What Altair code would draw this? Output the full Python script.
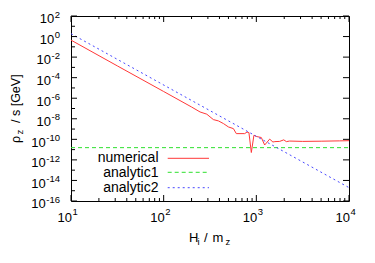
import altair as alt
import pandas as pd

# ---------------- data ----------------
num_x = [10, 31.6, 100, 200, 247, 292, 344, 390, 442, 500, 566, 608, 748, 793, 832,
         883, 942, 1000, 1132, 1230, 1393, 1510, 1585, 1786, 1977, 2109, 2286,
         3162, 5012, 7943, 10000]
num_y = [4.5e-1, 1.4e-3, 4.5e-6, 1.4e-7, 4.6e-8, 2.8e-8, 8.3e-9, 6.2e-9, 3.4e-9,
         1.6e-9, 1.1e-9, 3.6e-10, 3.6e-10, 5.1e-10, 4.5e-10, 5.2e-12, 2.5e-10,
         1.9e-10, 1.5e-10, 2.8e-11, 1.05e-10, 5.5e-11, 6.0e-11, 6.3e-11, 8.9e-11,
         6.0e-11, 6.8e-11, 6.3e-11, 6.6e-11, 7.1e-11, 7.4e-11]
a1_x = [10, 10000]
a1_y = [1.55e-11, 1.55e-11]
a2_x = [10, 10000]
a2_y = [1.9, 2.0e-15]

series_names = ["numerical", "analytic1", "analytic2"]

x_major = [10, 100, 1000, 10000]
x_major_exp = ["1", "2", "3", "4"]
x_minor = [20, 30, 40, 50, 60, 70, 80, 90, 200, 300, 400, 500, 600, 700, 800, 900,
           2000, 3000, 4000, 5000, 6000, 7000, 8000, 9000]
y_major = [1e2, 1e0, 1e-2, 1e-4, 1e-6, 1e-8, 1e-10, 1e-12, 1e-14, 1e-16]
y_major_exp = ["2", "0", "-2", "-4", "-6", "-8", "-10", "-12", "-14", "-16"]
y_odd = [1e1, 1e-1, 1e-3, 1e-5, 1e-7, 1e-9, 1e-11, 1e-13, 1e-15]

# ---------------- styling ----------------
W, H = 278, 185
FONT = "Liberation Sans"
RED, GREEN, BLUE = "#ff3838", "#2ee02e", "#4848ff"

xscale = alt.Scale(type="log", domain=[10, 10000])
yscale = alt.Scale(type="log", domain=[1e-16, 1e2])


def X(f="x"):
    return alt.X(f"{f}:Q", scale=xscale, axis=None)


def Y(f="y"):
    return alt.Y(f"{f}:Q", scale=yscale, axis=None)


def line(xs, ys, color, dash=None):
    kw = dict(color=color, strokeWidth=1, clip=True)
    if dash:
        kw["strokeDash"] = dash
    return alt.Chart(pd.DataFrame({"x": xs, "y": ys})).mark_line(**kw).encode(x=X(), y=Y())


layers = [
    line(num_x, num_y, RED),
    line(a1_x, a1_y, GREEN, [4, 3]),
    line(a2_x, a2_y, BLUE, [2, 3]),
]

# ticks (inward, gnuplot style)
dfxM = pd.DataFrame({"x": x_major, "e": x_major_exp})
dfxm = pd.DataFrame({"x": x_minor})
dfyM = pd.DataFrame({"y": y_major, "e": y_major_exp})
dfym = pd.DataFrame({"y": y_odd})
rule = dict(color="black", strokeWidth=1)
layers += [
    alt.Chart(dfxM).mark_rule(**rule).encode(x=X(), y=alt.value(H), y2=alt.value(H - 6)),
    alt.Chart(dfxM).mark_rule(**rule).encode(x=X(), y=alt.value(0), y2=alt.value(6)),
    alt.Chart(dfxm).mark_rule(**rule).encode(x=X(), y=alt.value(H), y2=alt.value(H - 3)),
    alt.Chart(dfxm).mark_rule(**rule).encode(x=X(), y=alt.value(0), y2=alt.value(3)),
    alt.Chart(dfyM).mark_rule(**rule).encode(y=Y(), x=alt.value(0), x2=alt.value(6)),
    alt.Chart(dfym).mark_rule(**rule).encode(y=Y(), x=alt.value(0), x2=alt.value(4)),
    alt.Chart(dfyM).mark_rule(**rule).encode(y=Y(), x=alt.value(W), x2=alt.value(W - 6)),
]

# tick labels: "10" plus superscript exponent
layers += [
    alt.Chart(dfxM).mark_text(align="right", baseline="alphabetic", font=FONT, fontSize=13, dx=1)
    .encode(x=X(), y=alt.value(H + 20.7), text=alt.value("10")),
    alt.Chart(dfxM).mark_text(align="left", baseline="alphabetic", font=FONT, fontSize=9.5, dx=1.5)
    .encode(x=X(), y=alt.value(H + 14), text="e:N"),
    alt.Chart(dfyM).mark_text(align="right", baseline="alphabetic", font=FONT, fontSize=9.5, dy=1.7)
    .encode(y=Y(), x=alt.value(-11), text="e:N"),
]
for cond, xr in [("length(datum.e) == 1", -16.8), ("length(datum.e) == 2", -20.0),
                 ("length(datum.e) == 3", -25.3)]:
    layers.append(
        alt.Chart(dfyM).transform_filter(cond)
        .mark_text(align="right", baseline="alphabetic", font=FONT, fontSize=13, dy=7.3)
        .encode(y=Y(), x=alt.value(xr), text=alt.value("10"))
    )


def txt(t, x, y, size=13, angle=None, align="left"):
    kw = dict(align=align, baseline="alphabetic", font=FONT, fontSize=size, color="black")
    if angle is not None:
        kw["angle"] = angle
    return alt.Chart(pd.DataFrame({"t": [t]})).mark_text(**kw).encode(
        x=alt.value(x), y=alt.value(y), text="t:N")


# axis titles with subscripts
layers += [
    txt("H", 118, 225.7),
    txt("i", 126.5, 228.7, 9.5),
    txt("/", 133, 225.7),
    txt("m", 141.5, 225.7),
    txt("z", 154.5, 228.7, 9.5),
    txt("ρ", -51.5, 127, 12.5, 270),
    txt("z", -48.5, 118.5, 9.5, 270),
    txt("/ s [GeV]", -51.5, 107, 12.5, 270),
]

# legend (label then sample, as in gnuplot)
leg_text_y = [146.3, 160.7, 175.7]
leg_line_y = [142.3, 156.3, 171.7]
styles = [(RED, None), (GREEN, [4, 3]), (BLUE, [2, 3])]
for name, ty, ly, (col, dash) in zip(series_names, leg_text_y, leg_line_y, styles):
    layers.append(txt(name, 87.5, ty, 14, align="right"))
    kw = dict(color=col, strokeWidth=1)
    if dash:
        kw["strokeDash"] = dash
    layers.append(
        alt.Chart(pd.DataFrame({"n": [name]})).mark_rule(**kw)
        .encode(x=alt.value(96.7), x2=alt.value(138), y=alt.value(ly))
    )

chart = alt.layer(*layers).properties(
    width=W, height=H,
    autosize=alt.AutoSizeParams(type="none"),
    padding={"left": 63, "top": 8, "right": 18, "bottom": 54},
    background="white",
).configure_view(stroke="black", strokeWidth=1)

chart.save("out.html", embed_options={"renderer": "svg", "actions": False})
